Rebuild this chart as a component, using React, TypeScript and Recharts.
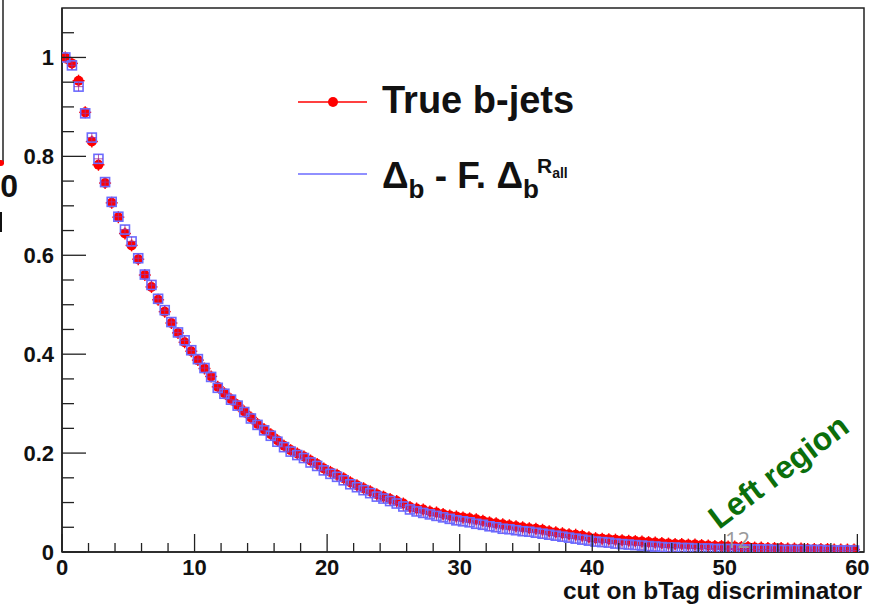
import React from "react";
import {
  ComposedChart,
  Scatter,
  XAxis,
  YAxis,
  ReferenceArea,
} from "recharts";

// efficiency vs. cut, 0.5 wide bins from 0 to 60
const BIN_WIDTH = 0.5;

const trueBJets = [
  1.0, 0.988, 0.953, 0.889, 0.83, 0.783, 0.746, 0.706, 0.677, 0.644,
  0.62, 0.592, 0.56, 0.536, 0.51, 0.486, 0.463, 0.443, 0.424, 0.406,
  0.388, 0.371, 0.355, 0.334, 0.321, 0.309, 0.297, 0.284, 0.272, 0.259,
  0.248, 0.238, 0.226, 0.215, 0.206, 0.199, 0.193, 0.185, 0.178, 0.169,
  0.162, 0.156, 0.149, 0.141, 0.135, 0.129, 0.123, 0.117, 0.112, 0.107,
  0.103, 0.098, 0.091, 0.088, 0.086, 0.082, 0.08, 0.077, 0.074, 0.072,
  0.07, 0.068, 0.066, 0.063, 0.06, 0.058, 0.056, 0.054, 0.052, 0.05,
  0.048, 0.047, 0.045, 0.042, 0.04, 0.038, 0.036, 0.035, 0.033, 0.03,
  0.028, 0.027, 0.026, 0.025, 0.024, 0.023, 0.022, 0.021, 0.02, 0.019,
  0.018, 0.017, 0.016, 0.016, 0.015, 0.015, 0.014, 0.013, 0.012, 0.012,
  0.011, 0.011, 0.01, 0.01, 0.009, 0.009, 0.008, 0.008, 0.008, 0.007,
  0.007, 0.007, 0.006, 0.006, 0.006, 0.006, 0.005, 0.005, 0.005, 0.005,
];

const deltaMinusF = [
  1.0, 0.984, 0.941, 0.887, 0.838, 0.795, 0.748, 0.708, 0.678, 0.652,
  0.628, 0.594, 0.561, 0.54, 0.512, 0.489, 0.465, 0.444, 0.428, 0.408,
  0.39, 0.372, 0.354, 0.332, 0.32, 0.308, 0.296, 0.283, 0.27, 0.257,
  0.246, 0.235, 0.223, 0.212, 0.203, 0.196, 0.19, 0.181, 0.174, 0.165,
  0.158, 0.152, 0.145, 0.137, 0.131, 0.125, 0.119, 0.112, 0.108, 0.103,
  0.098, 0.092, 0.086, 0.082, 0.079, 0.076, 0.073, 0.07, 0.067, 0.064,
  0.062, 0.06, 0.057, 0.055, 0.052, 0.05, 0.047, 0.046, 0.044, 0.042,
  0.041, 0.039, 0.037, 0.035, 0.033, 0.031, 0.029, 0.027, 0.025, 0.023,
  0.021, 0.02, 0.019, 0.017, 0.016, 0.015, 0.014, 0.013, 0.012, 0.011,
  0.01, 0.009, 0.009, 0.008, 0.008, 0.007, 0.007, 0.007, 0.006, 0.006,
  0.006, 0.006, 0.005, 0.005, 0.005, 0.005, 0.005, 0.004, 0.004, 0.004,
  0.004, 0.004, 0.004, 0.004, 0.004, 0.003, 0.003, 0.003, 0.003, 0.003,
];

const xTicks = [
  0, 2, 4, 6, 8, 10, 12, 14, 16, 18, 20, 22, 24, 26, 28, 30, 32, 34, 36, 38,
  40, 42, 44, 46, 48, 50, 52, 54, 56, 58, 60,
];
const yTicks = [
  0, 0.05, 0.1, 0.15, 0.2, 0.25, 0.3, 0.35, 0.4, 0.45, 0.5, 0.55, 0.6, 0.65,
  0.7, 0.75, 0.8, 0.85, 0.9, 0.95, 1, 1.05,
];

const trueData = trueBJets.map((y, i) => ({ x: (i + 0.5) * BIN_WIDTH, y }));
const fitData = deltaMinusF.map((y, i) => ({ x: (i + 0.5) * BIN_WIDTH, y }));

const FONT = "'Liberation Sans', Arial, Helvetica, sans-serif";
const RED = "#ff0000";
const BLUE = "#6b6bff";

const XTick = (props: any) => {
  const { x, y, payload } = props;
  const v = payload.value;
  const major = v % 10 === 0;
  return (
    <g>
      <line x1={x} y1={y} x2={x} y2={y - (major ? 18 : 9)} stroke="#222" strokeWidth={1.3} />
      {major && (
        <text x={x} y={y + 23} textAnchor="middle" fontFamily={FONT} fontWeight="bold" fontSize={22} fill="#111">
          {v}
        </text>
      )}
    </g>
  );
};

const YTick = (props: any) => {
  const { x, y, payload } = props;
  const v = payload.value;
  const major = Math.abs(v * 5 - Math.round(v * 5)) < 1e-6;
  return (
    <g>
      <line x1={x} y1={y} x2={x + (major ? 24 : 12)} y2={y} stroke="#222" strokeWidth={1.3} />
      {major && (
        <text x={x - 8} y={y + 8} textAnchor="end" fontFamily={FONT} fontWeight="bold" fontSize={22} fill="#111">
          {v}
        </text>
      )}
    </g>
  );
};

const RedDot = (props: any) => {
  const { cx, cy } = props;
  return (
    <g>
      <line x1={cx - 6} y1={cy} x2={cx + 6} y2={cy} stroke={RED} strokeWidth={1.4} />
      <line x1={cx} y1={cy - 6} x2={cx} y2={cy + 6} stroke={RED} strokeWidth={1.4} />
      <circle cx={cx} cy={cy} r={5} fill={RED} />
    </g>
  );
};

const BlueSquare = (props: any) => {
  const { cx, cy } = props;
  return (
    <g>
      <rect x={cx - 4.5} y={cy - 4.5} width={9} height={9} fill="none" stroke={BLUE} strokeWidth={1.6} />
      <line x1={cx} y1={cy - 4.5} x2={cx} y2={cy + 4.5} stroke="#a0309a" strokeWidth={0.8} />
      <line x1={cx - 4.5} y1={cy} x2={cx + 4.5} y2={cy} stroke="#a0309a" strokeWidth={0.8} />
    </g>
  );
};

export default function App() {
  return (
    <div style={{ position: "absolute", left: 0, top: 0, width: 871, height: 606, background: "#fff", overflow: "hidden" }}>
      <ComposedChart width={871} height={606} margin={{ top: 8, right: 7, left: 0, bottom: 0 }}>
        <XAxis
          type="number"
          dataKey="x"
          domain={[0, 60.5]}
          ticks={xTicks}
          tick={<XTick />}
          tickLine={false}
          tickSize={0}
          tickMargin={0}
          height={54}
          axisLine={{ stroke: "#222", strokeWidth: 1.5 }}
          allowDataOverflow
        />
        <YAxis
          type="number"
          dataKey="y"
          domain={[0, 1.1]}
          ticks={yTicks}
          tick={<YTick />}
          tickLine={false}
          tickSize={0}
          tickMargin={0}
          width={62}
          axisLine={{ stroke: "#222", strokeWidth: 1.5 }}
          allowDataOverflow
        />
        <ReferenceArea x1={0} x2={60.5} y1={0} y2={1.1} fill="none" stroke="#222" strokeWidth={1.5} />
        <Scatter data={trueData} dataKey="y" shape={<RedDot />} isAnimationActive={false} />
        <Scatter data={fitData} dataKey="y" shape={<BlueSquare />} isAnimationActive={false} />
      </ComposedChart>

      <svg width={871} height={606} style={{ position: "absolute", left: 0, top: 0, pointerEvents: "none" }}>
        {/* neighbouring plot cut off at the left edge */}
        <line x1={3} y1={0} x2={3} y2={164} stroke="#222" strokeWidth={1.5} />
        <circle cx={1} cy={163} r={3} fill={RED} />
        <text x={18} y={197} textAnchor="end" fontFamily={FONT} fontWeight="bold" fontSize={32} fill="#111">0</text>
        <rect x={0} y={212} width={2} height={20} fill="#111" />

        {/* legend */}
        <line x1={298} y1={102} x2={367} y2={102} stroke={RED} strokeWidth={1.5} />
        <circle cx={333} cy={102} r={5} fill={RED} />
        <text x={382} y={113} fontFamily={FONT} fontWeight="bold" fontSize={38} fill="#111">True b-jets</text>
        <line x1={298} y1={174} x2={367} y2={174} stroke={BLUE} strokeWidth={1.5} />
        <text x={382} y={188} fontFamily={FONT} fontWeight="bold" fontSize={37} fill="#111">
          Δ<tspan fontSize={26} dy={10}>b</tspan>
          <tspan dy={-10}> - F. Δ</tspan>
          <tspan fontSize={26} dy={10}>b</tspan>
        </text>
        <text x={537} y={173} fontFamily={FONT} fontWeight="bold" fontSize={21} fill="#111">
          R<tspan fontSize={14} dy={5}>all</tspan>
        </text>

        <text
          x={719}
          y={530}
          transform="rotate(-37 719 530)"
          fontFamily={FONT}
          fontWeight="bold"
          fontSize={32}
          fill="#0b6e0b"
        >
          Left region
        </text>
        <text x={725} y={548} fontFamily="'Open Sans', 'Liberation Sans', sans-serif" fontSize={22} fill="#9a9a9a">12</text>

        <text x={862} y={599} textAnchor="end" fontFamily={FONT} fontWeight="bold" fontSize={24.5} fill="#111">
          cut on bTag discriminator
        </text>
      </svg>
    </div>
  );
}
